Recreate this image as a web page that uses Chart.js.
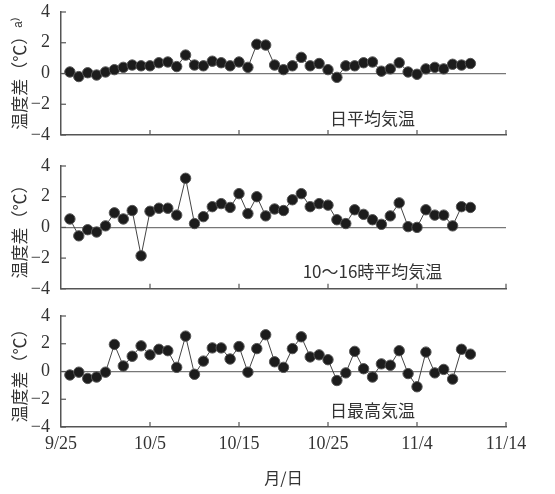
<!DOCTYPE html>
<html lang="ja">
<head>
<meta charset="UTF-8">
<title>温度差</title>
<script src="https://cdn.jsdelivr.net/npm/chart.js"></script>
<style>
  body { margin: 0; background: #fff; }
  canvas { position: absolute; left: 0; }
</style>
</head>
<body>
<canvas id="c1" width="555" height="145" style="top:0px"></canvas>
<canvas id="c2" width="555" height="145" style="top:150px"></canvas>
<canvas id="c3" width="555" height="198" style="top:296px"></canvas>

<script>
// 日付 (9/26〜11/10)
const dates = ['9/26','9/27','9/28','9/29','9/30',
  '10/1','10/2','10/3','10/4','10/5','10/6','10/7','10/8','10/9','10/10',
  '10/11','10/12','10/13','10/14','10/15','10/16','10/17','10/18','10/19','10/20',
  '10/21','10/22','10/23','10/24','10/25','10/26','10/27','10/28','10/29','10/30','10/31',
  '11/1','11/2','11/3','11/4','11/5','11/6','11/7','11/8','11/9','11/10'];

const xTickLabels = ['9/25', '10/5', '10/15', '10/25', '11/4', '11/14'];
const yTicks = [-4, -2, 0, 2, 4];

// 温度差 (℃)
const dailyMean = [0.1,-0.2,0.05,-0.1,0.1,0.25,0.4,0.55,0.5,0.5,0.7,0.75,0.45,1.2,0.55,0.5,
  0.8,0.7,0.5,0.75,0.4,1.9,1.85,0.55,0.25,0.5,1.05,0.5,0.65,0.25,-0.25,0.5,0.5,0.7,0.75,
  0.15,0.3,0.7,0.1,-0.05,0.3,0.4,0.3,0.6,0.55,0.65];
const daytimeMean = [0.55,-0.55,-0.15,-0.3,0.1,0.95,0.55,1.1,-1.85,1.05,1.25,1.25,0.8,3.2,0.25,0.7,
  1.35,1.55,1.3,2.2,0.9,2.0,0.75,1.2,1.1,1.8,2.2,1.35,1.55,1.45,0.5,0.25,1.15,0.85,0.5,
  0.2,0.75,1.6,0.05,0.0,1.15,0.8,0.8,0.1,1.35,1.3];
const dailyMax = [-0.25,-0.05,-0.5,-0.4,-0.05,1.95,0.4,1.1,1.85,1.2,1.6,1.5,0.3,2.55,-0.2,0.75,
  1.7,1.7,0.9,1.8,-0.05,1.65,2.65,0.7,0.3,1.65,2.5,1.05,1.2,0.85,-0.65,-0.1,1.45,0.2,-0.4,
  0.55,0.45,1.5,-0.15,-1.1,1.4,-0.1,0.15,-0.55,1.6,1.25];

const panelNames = ['日平均気温', '10〜16時平均気温', '日最高気温'];

// 9/25 からの日数
function dayIndex(s) {
  const [m, d] = s.split('/').map(Number);
  if (m === 9) return d - 25;
  if (m === 10) return d + 5;
  return d + 36;
}

const AXIS = '#555';
const SERIF = '"Liberation Serif", "DejaVu Serif", serif';
const JP = '"Noto Sans CJK JP", sans-serif';

// 内向きの目盛り線と図中ラベル
const innerTicks = {
  id: 'innerTicks',
  afterDraw(chart, args, opts) {
    const ctx = chart.ctx;
    const x = chart.scales.x, y = chart.scales.y;
    ctx.save();
    ctx.strokeStyle = AXIS;
    ctx.lineWidth = 1.2;
    x.ticks.forEach(t => {
      if (t.value === 0) return;
      const px = x.getPixelForValue(t.value);
      ctx.beginPath();
      ctx.moveTo(px, chart.chartArea.bottom);
      ctx.lineTo(px, chart.chartArea.bottom - 5);
      ctx.stroke();
    });
    y.ticks.forEach(t => {
      const py = y.getPixelForValue(t.value);
      ctx.beginPath();
      ctx.moveTo(chart.chartArea.left, py);
      ctx.lineTo(chart.chartArea.left + 5, py);
      ctx.stroke();
    });
    ctx.fillStyle = '#333';
    ctx.font = '17px ' + JP;
    ctx.textAlign = 'center';
    ctx.textBaseline = 'middle';
    ctx.fillText(opts.text, x.getPixelForValue(opts.x), y.getPixelForValue(opts.y));
    ctx.restore();
  }
};

function makePanel(id, values, name, o) {
  const data = dates.map((d, i) => ({ x: dayIndex(d), y: values[i] }));
  return new Chart(document.getElementById(id), {
    type: 'line',
    data: {
      datasets: [{
        data: data,
        borderColor: '#444',
        borderWidth: 1,
        pointRadius: 5.2,
        pointBackgroundColor: '#1c1c1c',
        pointBorderColor: '#555',
        pointBorderWidth: 1,
        tension: 0
      }]
    },
    options: {
      responsive: false,
      animation: false,
      layout: { padding: { top: o.top, right: 49, bottom: 0, left: 0 } },
      plugins: {
        legend: { display: false },
        tooltip: { enabled: false },
        innerTicks: { text: name, x: 35, y: o.labelY }
      },
      scales: {
        x: {
          type: 'linear',
          min: 0,
          max: 50,
          afterBuildTicks: s => { s.ticks = xTickLabels.map((l, i) => ({ value: i * 10 })); },
          afterFit: s => { s.height = o.xHeight; s.paddingLeft = 0; s.paddingRight = 0; },
          grid: { display: false, drawTicks: false },
          border: { display: true, color: AXIS, width: 1.5 },
          ticks: {
            display: o.showX,
            maxRotation: 0,
            padding: 6,
            color: '#333',
            font: { family: SERIF, size: 18 },
            callback: (v) => xTickLabels[Math.round(v / 10)]
          },
          title: {
            display: o.showX,
            text: '月/日',
            color: '#333',
            font: { family: JP, size: 16 },
            padding: { top: 0, bottom: 6 }
          }
        },
        y: {
          min: -4,
          max: 4,
          afterBuildTicks: s => { s.ticks = yTicks.map(v => ({ value: v })); },
          afterFit: s => { s.width = 61; s.paddingTop = 0; s.paddingBottom = 0; },
          grid: {
            drawTicks: false,
            color: c => (c.tick && c.tick.value === 0) ? '#777' : 'rgba(0,0,0,0)',
            lineWidth: 1.2
          },
          border: { display: true, color: AXIS, width: 1.5 },
          ticks: {
            padding: 11,
            color: '#333',
            font: { family: SERIF, size: 18 },
            callback: v => (v < 0 ? '\u2212' + Math.abs(v) : String(v))
          },
          title: {
            display: true,
            text: o.yTitle,
            color: '#333',
            font: { family: JP, size: 17 },
            padding: { top: 9, bottom: 0 }
          }
        }
      }
    },
    plugins: [innerTicks]
  });
}

makePanel('c1', dailyMean, panelNames[0],
  { top: 12, xHeight: 10, showX: false, labelY: -2.9, yTitle: '温度差（℃）ᵃ⁾' });
makePanel('c2', daytimeMean, panelNames[1],
  { top: 16, xHeight: 6, showX: false, labelY: -2.9, yTitle: '温度差（℃）' });
makePanel('c3', dailyMax, panelNames[2],
  { top: 20, xHeight: 67, showX: true, labelY: -2.8, yTitle: '温度差（℃）' });
</script>
</body>
</html>
